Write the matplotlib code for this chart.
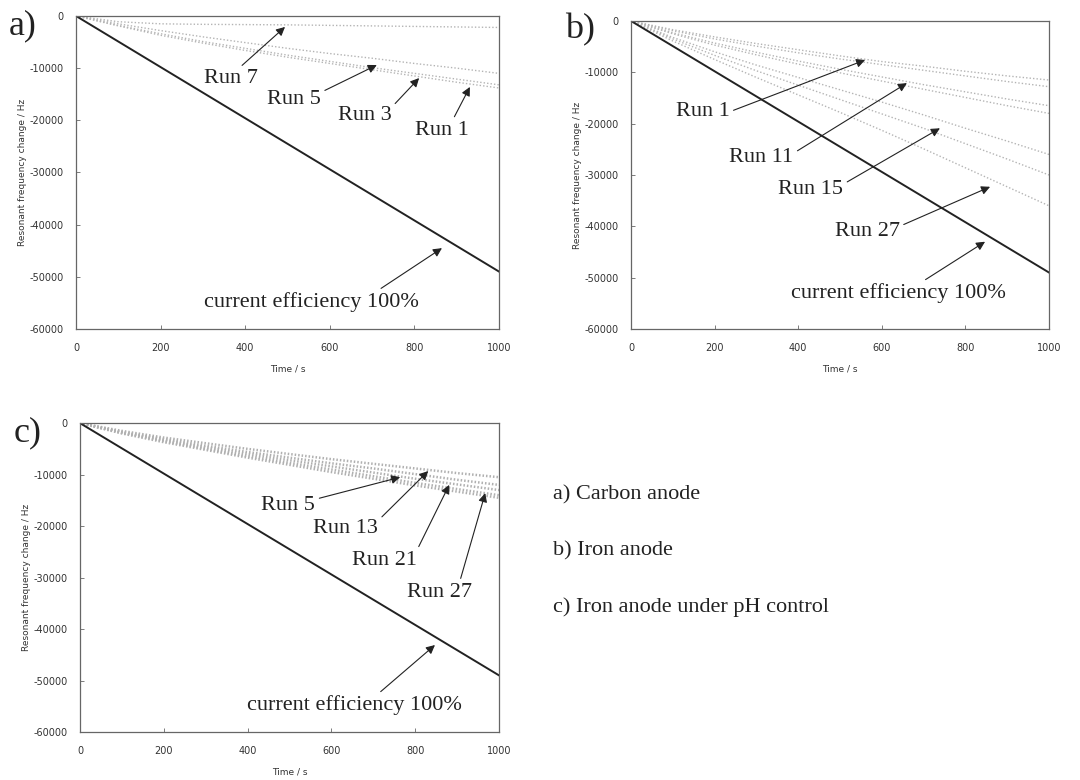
import matplotlib
matplotlib.use('Agg')
import matplotlib.pyplot as plt
import numpy as np

plt.rcParams['axes.unicode_minus'] = False

# time axis (s), sampled every 100 s
t = np.arange(0, 1001, 100)

# 100% current efficiency line (Hz)
ideal = [0, -4900, -9800, -14700, -19600, -24500, -29400, -34300, -39200, -44100, -49000]

# a) carbon anode
a_runs = {
    'Run 7': [0, -1100, -1500, -1600, -1650, -1700, -1800, -1900, -2000, -2100, -2200],
    'Run 5': [0, -1500, -2800, -4000, -5100, -6200, -7200, -8100, -9100, -10000, -11000],
    'Run 3': [0, -1800, -3400, -4900, -6200, -7500, -8700, -9900, -11000, -12100, -13200],
    'Run 1': [0, -1900, -3700, -5200, -6600, -7900, -9100, -10300, -11500, -12700, -13800],
}
# b) iron anode
b_runs = {
    'Run 1':  [0, -1700, -3100, -4400, -5600, -6800, -7900, -8800, -9800, -10700, -11500],
    'Run 3':  [0, -1900, -3500, -4900, -6200, -7400, -8500, -9600, -10700, -11800, -12800],
    'Run 7':  [0, -2300, -4300, -6100, -7800, -9400, -10900, -12400, -13800, -15200, -16500],
    'Run 11': [0, -2500, -4700, -6600, -8400, -10100, -11700, -13300, -14900, -16500, -18000],
    'Run 15': [0, -3200, -6000, -8600, -11000, -13400, -15800, -18300, -20900, -23400, -26000],
    'Run 21': [0, -3500, -6700, -9700, -12500, -15300, -18100, -20900, -23900, -26900, -30000],
    'Run 27': [0, -3900, -7500, -11000, -14400, -17800, -21300, -24900, -28600, -32300, -36000],
}
# c) iron anode under pH control
c_runs = {
    'Run 5':  [0, -1500, -2800, -3900, -5000, -6000, -7000, -7900, -8800, -9700, -10500],
    'Run 13': [0, -1700, -3100, -4400, -5600, -6700, -7800, -8800, -9900, -11000, -12000],
    'Run 21': [0, -1800, -3300, -4700, -6000, -7200, -8400, -9600, -10800, -11900, -13000],
    'Run 27': [0, -1900, -3500, -5000, -6400, -7700, -9000, -10300, -11600, -12800, -14000],
    'Run 29': [0, -2000, -3700, -5200, -6700, -8100, -9500, -10800, -12100, -13300, -14500],
}

# (label, head x, head y, text x, text y, relpos)
a_notes = [
    ('Run 7', 494, -2100, 365, -12000, (0.6, 0.9)),
    ('Run 5', 711, -9400, 515, -16100, (1.0, 0.9)),
    ('Run 3', 811, -11900, 682, -19000, (1.0, 0.9)),
    ('Run 1', 931, -13600, 864, -21900, (0.7, 1.0)),
    ('current efficiency 100%', 865, -44500, 556, -54800, (0.8, 1.0)),
]
b_notes = [
    ('Run 1', 560, -7600, 171, -17700, (1.0, 0.5)),
    ('Run 11', 660, -12100, 312, -26500, (1.0, 0.7)),
    ('Run 15', 739, -20900, 430, -32900, (1.0, 0.8)),
    ('Run 27', 859, -32300, 565, -41100, (1.0, 0.8)),
    ('current efficiency 100%', 847, -43000, 640, -53000, (0.6, 1.0)),
]
c_notes = [
    ('Run 5', 764, -10500, 497, -15900, (1.0, 0.8)),
    ('Run 13', 831, -9300, 634, -20400, (1.0, 0.9)),
    ('Run 21', 881, -12000, 726, -26600, (1.0, 1.0)),
    ('Run 27', 967, -13600, 859, -32800, (0.8, 1.0)),
    ('current efficiency 100%', 847, -43100, 656, -54800, (0.6, 1.0)),
]

captions = ['a) Carbon anode', 'b) Iron anode', 'c) Iron anode under pH control']

serif = ['Liberation Serif', 'DejaVu Serif']
sans = ['DejaVu Sans']

fig = plt.figure(figsize=(10.8, 7.8), dpi=100)
ax_a = fig.add_axes([0.0704, 0.5782, 0.3917, 0.4013])
ax_b = fig.add_axes([0.5843, 0.5782, 0.3870, 0.3949])
ax_c = fig.add_axes([0.0741, 0.0615, 0.3880, 0.3960])


def draw_panel(ax, runs, notes, letter, lw=1.0, col='#b4b4b4', dash=(1, 1.5)):
    for name, vals in runs.items():
        ax.plot(t, vals, color=col, lw=lw, ls=(0, dash))
    ax.plot(t, ideal, color='#222222', lw=1.4)
    ax.set_xlim(0, 1000)
    ax.set_ylim(-60000, 0)
    ax.set_xticks(range(0, 1001, 200))
    ax.set_yticks(range(-60000, 1, 10000))
    ax.tick_params(direction='in', length=3, width=0.6, labelsize=7,
                   labelcolor='#333333', color='#666666')
    ax.tick_params(axis='y', pad=9)
    ax.tick_params(axis='x', pad=10)
    for lab in ax.get_xticklabels() + ax.get_yticklabels():
        lab.set_family(sans)
    for s in ax.spines.values():
        s.set_color('#666666')
        s.set_linewidth(0.9)
    ax.set_xlabel('Time / s', fontsize=6.5, family=sans, color='#333333', labelpad=8)
    ax.set_ylabel('Resonant frequency change / Hz', fontsize=6.5, family=sans,
                  color='#333333', labelpad=2)
    for label, hx, hy, tx, ty, rp in notes:
        ax.annotate(label, xy=(hx, hy), xytext=(tx, ty), ha='center', va='center',
                    fontsize=16, family=serif, color='#222222',
                    arrowprops=dict(arrowstyle='-|>', color='#222222', lw=0.8,
                                    mutation_scale=13, relpos=rp, shrinkA=1, shrinkB=0))
    ax.text(-0.158, 0.97, letter, transform=ax.transAxes, fontsize=26, family=serif,
            ha='left', va='center', color='#222222')


draw_panel(ax_a, a_runs, a_notes, 'a)')
draw_panel(ax_b, b_runs, b_notes, 'b)')
draw_panel(ax_c, c_runs, c_notes, 'c)', lw=1.8, col='#b0b0b0', dash=(0.6, 0.8))

for i, cap in enumerate(captions):
    fig.text(553 / 1080, 1 - (495 + i * 56) / 780, cap, fontsize=16, family=serif,
             color='#222222', ha='left', va='center')

fig.savefig('out.png', dpi=100)
